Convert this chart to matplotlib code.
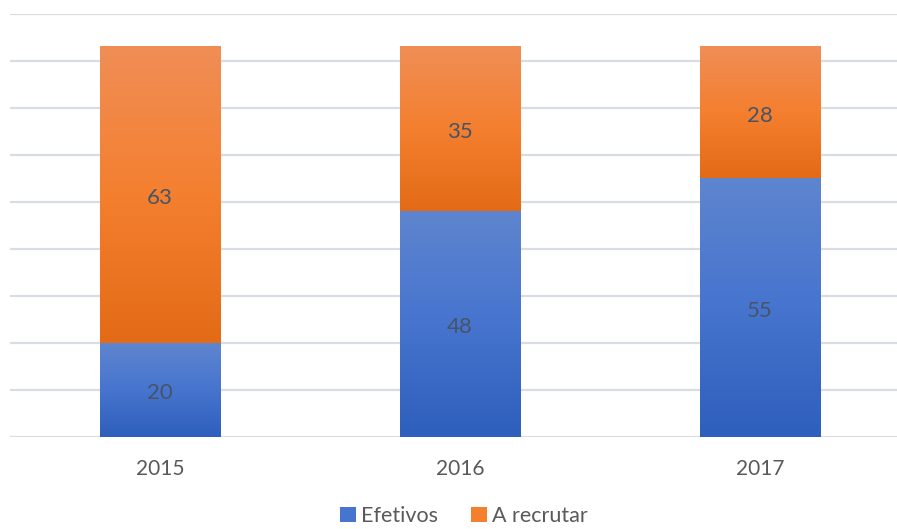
import matplotlib
matplotlib.use("Agg")
import matplotlib.pyplot as plt
import numpy as np
from matplotlib.colors import LinearSegmentedColormap
from matplotlib.patches import Patch

years = ["2015", "2016", "2017"]
efetivos = [20, 48, 55]
recrutar = [63, 35, 28]
series_names = ["Efetivos", "A recrutar"]

plt.rcParams['font.family'] = ['Lato', 'DejaVu Sans']

W, H = 897, 529
fig = plt.figure(figsize=(W / 100, H / 100), dpi=100)
left, right = 10 / W, 910 / W
bottom, top = 1 - 437 / H, 1 - 14 / H
ax = fig.add_axes([left, bottom, right - left, top - bottom])

blue_cmap = LinearSegmentedColormap.from_list("b", ["#2E5FBC", "#4674CE", "#5E85CF"])
orange_cmap = LinearSegmentedColormap.from_list("o", ["#E36B16", "#F47F2F", "#F08E56"])

x = np.arange(len(years))
bw = 0.403
grad = np.linspace(0, 1, 256).reshape(-1, 1)

def grad_bar(xc, y0, h, cmap):
    ax.imshow(grad, extent=[xc - bw / 2, xc + bw / 2, y0, y0 + h], origin='lower',
              cmap=cmap, aspect='auto', zorder=3, interpolation='bicubic')

label_color = "#475467"
off = -0.6
for i in range(len(years)):
    grad_bar(x[i], 0, efetivos[i], blue_cmap)
    grad_bar(x[i], efetivos[i], recrutar[i], orange_cmap)
    ax.text(x[i], efetivos[i] / 2 + off, str(efetivos[i]), ha='center', va='center',
            fontsize=16, color=label_color, zorder=4)
    ax.text(x[i], efetivos[i] + recrutar[i] / 2 + off, str(recrutar[i]), ha='center', va='center',
            fontsize=16, color=label_color, zorder=4)

ax.set_xlim(-0.5, 2.5)
ax.set_ylim(0, 90)
ax.set_yticks(np.arange(0, 91, 10))
ax.yaxis.grid(True, color="#D9DCE2", linewidth=1.6, zorder=0)
ax.set_axisbelow(True)
ax.tick_params(axis='y', left=False, labelleft=False)
ax.tick_params(axis='x', length=0, pad=16, labelsize=15, labelcolor="#595959")
ax.set_xticks(x)
ax.set_xticklabels(years)
for s in ax.spines.values():
    s.set_visible(False)

handles = [Patch(facecolor="#4674CE", edgecolor='none'),
           Patch(facecolor="#F47F2F", edgecolor='none')]
fig.legend(handles, series_names, loc='center', bbox_to_anchor=(464 / W, 1 - 516 / H),
           ncol=2, frameon=False, fontsize=15.5, handlelength=0.75, handleheight=0.75,
           handletextpad=0.25, columnspacing=1.5, labelcolor="#595959",
           borderpad=0.1)

fig.savefig("out.png", dpi=100)
